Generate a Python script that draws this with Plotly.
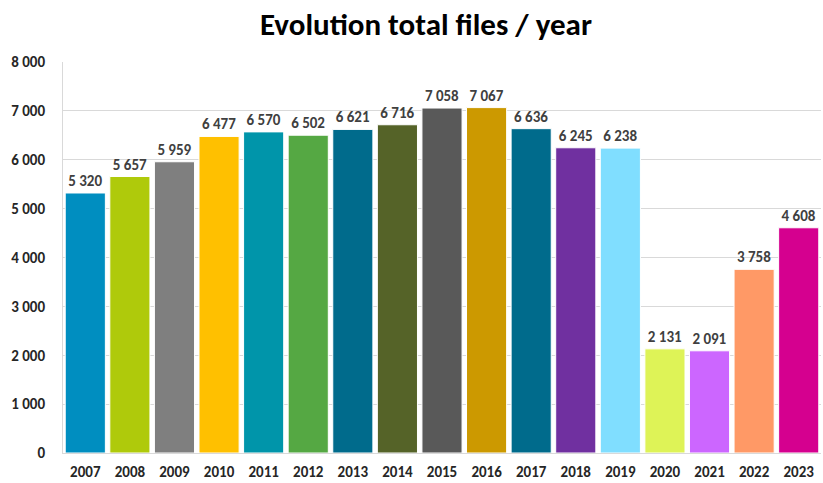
import plotly.graph_objects as go

years = ["2007", "2008", "2009", "2010", "2011", "2012", "2013", "2014", "2015",
         "2016", "2017", "2018", "2019", "2020", "2021", "2022", "2023"]
files = [5320, 5657, 5959, 6477, 6570, 6502, 6621, 6716, 7058,
         7067, 6636, 6245, 6238, 2131, 2091, 3758, 4608]
colors = ["#008EC0", "#AFCA0B", "#7F7F7F", "#FFC000", "#0095AA", "#55A843",
          "#006B8C", "#556328", "#595959", "#CC9900", "#006B8C", "#7030A0",
          "#80DEFF", "#DEF357", "#CC66FF", "#FF9966", "#D5008F"]
ytick_vals = [0, 1000, 2000, 3000, 4000, 5000, 6000, 7000, 8000]

FONT = "Calibri, Carlito, Lato, sans-serif"

fig = go.Figure(go.Bar(
    x=years, y=files,
    marker=dict(color=colors, line=dict(color="white", width=1)),
    text=files, texttemplate="%{y:,d}", textposition="outside",
    textfont=dict(family=FONT, size=15, color="#404040", weight="bold"),
    cliponaxis=False,
))

fig.update_layout(
    width=823, height=483,
    margin=dict(l=63, r=2, t=62, b=26),
    paper_bgcolor="white", plot_bgcolor="white",
    separators=", ",
    bargap=0.1,
    showlegend=False,
    title=dict(text="<b>Evolution total files / year</b>", x=0.5176, xref="container",
               xanchor="center", y=0.972, yanchor="top",
               font=dict(family=FONT, size=31, color="black")),
    font=dict(family=FONT, color="black"),
)
fig.update_xaxes(
    showline=True, linecolor="#D9D9D9", linewidth=1,
    tickfont=dict(family=FONT, size=15, color="#262626", weight="bold"),
    ticks="", ticklabelstandoff=5,
)
fig.update_yaxes(
    range=[0, 8000], tickvals=ytick_vals, tickformat=",d",
    showgrid=True, gridcolor="#D9D9D9", gridwidth=1,
    showline=True, linecolor="#D9D9D9", linewidth=1,
    zeroline=False,
    tickfont=dict(family=FONT, size=15, color="#262626", weight="bold"),
    ticks="", ticklabelstandoff=14,
)

fig.write_html("out.html", config={"displayModeBar": False},
               post_script="document.body.style.margin='0';document.body.style.overflow='hidden';")
